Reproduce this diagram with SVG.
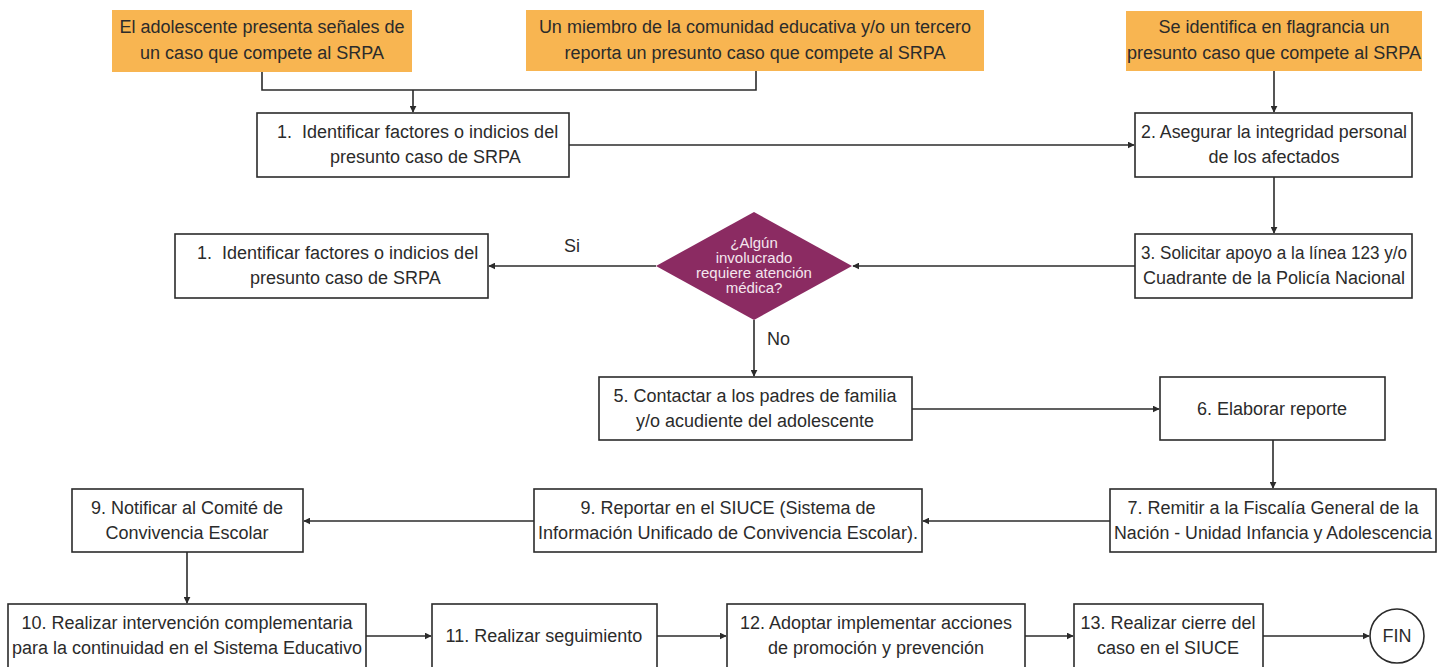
<svg xmlns="http://www.w3.org/2000/svg" width="1450" height="667" viewBox="0 0 1450 667">
<style>
.o{fill:#F8B551;stroke:none}
.b{fill:#fff;stroke:#2b2b2b;stroke-width:1.6}
.t{font-family:"Liberation Sans",Arial,sans-serif;font-size:18px;fill:#2b2b2b}
.c{font-family:"Liberation Sans",Arial,sans-serif;font-size:18px;fill:#2b2b2b}
.m{text-anchor:middle}
.d{font-family:"Liberation Sans",Arial,sans-serif;font-size:15px;fill:#f4e6ee;text-anchor:middle}
.l{fill:none;stroke:#2b2b2b;stroke-width:1.6}
</style>
<defs>
<marker id="a" viewBox="0 0 10 10" refX="9" refY="5" markerWidth="7" markerHeight="7" markerUnits="userSpaceOnUse" orient="auto">
<path d="M0,0 L10,5 L0,10 z" fill="#2b2b2b"/>
</marker>
</defs>
<rect width="1450" height="667" fill="#fff"/>
<g id="connectors">
<polyline class="l" points="262,72 262,90 756,90 756,71"/>
<line class="l" x1="413" y1="90" x2="413" y2="112" marker-end="url(#a)"/>
<line class="l" x1="569" y1="145" x2="1134" y2="145" marker-end="url(#a)"/>
<line class="l" x1="1274" y1="71" x2="1274" y2="112" marker-end="url(#a)"/>
<line class="l" x1="1274" y1="177" x2="1274" y2="233" marker-end="url(#a)"/>
<line class="l" x1="1135" y1="266" x2="853" y2="266" marker-end="url(#a)"/>
<line class="l" x1="656" y1="266" x2="489" y2="266" marker-end="url(#a)"/>
<line class="l" x1="754" y1="320" x2="754" y2="376" marker-end="url(#a)"/>
<line class="l" x1="912" y1="409" x2="1159" y2="409" marker-end="url(#a)"/>
<line class="l" x1="1273" y1="440" x2="1273" y2="488" marker-end="url(#a)"/>
<line class="l" x1="1110" y1="521" x2="923" y2="521" marker-end="url(#a)"/>
<line class="l" x1="534" y1="521" x2="304" y2="521" marker-end="url(#a)"/>
<line class="l" x1="187" y1="552" x2="187" y2="603" marker-end="url(#a)"/>
<line class="l" x1="366" y1="636" x2="431" y2="636" marker-end="url(#a)"/>
<line class="l" x1="657" y1="636" x2="726" y2="636" marker-end="url(#a)"/>
<line class="l" x1="1025" y1="636" x2="1073" y2="636" marker-end="url(#a)"/>
<line class="l" x1="1263" y1="636" x2="1369" y2="636" marker-end="url(#a)"/>
<text class="t" x="564" y="252">Si</text>
<text class="t" x="767" y="345">No</text>
</g>
<g id="start1">
<rect class="o" x="112" y="10" width="300" height="62"/>
<text class="t m" x="262" y="33">El adolescente presenta señales de</text>
<text class="t m" x="262" y="59">un caso que compete al SRPA</text>
</g>
<g id="start2">
<rect class="o" x="526" y="10" width="458" height="61"/>
<text class="t m" x="755" y="33">Un miembro de la comunidad educativa y/o un tercero</text>
<text class="t m" x="755" y="59">reporta un presunto caso que compete al SRPA</text>
</g>
<g id="start3">
<rect class="o" x="1126" y="11" width="296" height="60"/>
<text class="t m" x="1274" y="33">Se identifica en flagrancia un</text>
<text class="t m" x="1274" y="59">presunto caso que compete al SRPA</text>
</g>
<g id="step1">
<rect class="b" x="257" y="113" width="312" height="64"/>
<text class="t" x="277" y="138" xml:space="preserve">1.  Identificar factores o indicios del</text>
<text class="t" x="330" y="163">presunto caso de SRPA</text>
</g>
<g id="step2">
<rect class="b" x="1135" y="113" width="277" height="64"/>
<text class="t m" x="1274" y="138" textLength="266" lengthAdjust="spacingAndGlyphs">2. Asegurar la integridad personal</text>
<text class="t m" x="1274" y="163">de los afectados</text>
</g>
<g id="step3">
<rect class="b" x="1135" y="234" width="277" height="64"/>
<text class="t m" x="1274" y="259" textLength="266" lengthAdjust="spacingAndGlyphs">3. Solicitar apoyo a la línea 123 y/o</text>
<text class="t m" x="1274" y="284">Cuadrante de la Policía Nacional</text>
</g>
<g id="decision">
<polygon points="754,212 852,266 754,320 656,266" fill="#8B2B62"/>
<text class="d" x="754" y="248">¿Algún</text>
<text class="d" x="754" y="263">involucrado</text>
<text class="d" x="754" y="278">requiere atención</text>
<text class="d" x="754" y="293">médica?</text>
</g>
<g id="step1b">
<rect class="b" x="175" y="234" width="313" height="64"/>
<text class="c" x="197" y="259" xml:space="preserve">1.  Identificar factores o indicios del</text>
<text class="c" x="250" y="284">presunto caso de SRPA</text>
</g>
<g id="step5">
<rect class="b" x="599" y="377" width="313" height="63"/>
<text class="c m" x="755" y="402">5. Contactar a los padres de familia</text>
<text class="c m" x="755" y="427">y/o acudiente del adolescente</text>
</g>
<g id="step6">
<rect class="b" x="1160" y="377" width="225" height="63"/>
<text class="c m" x="1272" y="415">6. Elaborar reporte</text>
</g>
<g id="step7">
<rect class="b" x="1110" y="489" width="326" height="63"/>
<text class="c m" x="1273" y="514">7. Remitir a la Fiscalía General de la</text>
<text class="c m" x="1273" y="539" textLength="318" lengthAdjust="spacingAndGlyphs">Nación - Unidad Infancia y Adolescencia</text>
</g>
<g id="step9a">
<rect class="b" x="534" y="489" width="388" height="63"/>
<text class="c m" x="728" y="514">9. Reportar en el SIUCE (Sistema de</text>
<text class="c m" x="728" y="539" textLength="380" lengthAdjust="spacingAndGlyphs">Información Unificado de Convivencia Escolar).</text>
</g>
<g id="step9b">
<rect class="b" x="72" y="489" width="231" height="63"/>
<text class="c m" x="187" y="514">9. Notificar al Comité de</text>
<text class="c m" x="187" y="539">Convivencia Escolar</text>
</g>
<g id="step10">
<rect class="b" x="8" y="604" width="358" height="70"/>
<text class="c m" x="187" y="629">10. Realizar intervención complementaria</text>
<text class="c m" x="187" y="654">para la continuidad en el Sistema Educativo</text>
</g>
<g id="step11">
<rect class="b" x="432" y="604" width="225" height="70"/>
<text class="c m" x="544" y="642">11. Realizar seguimiento</text>
</g>
<g id="step12">
<rect class="b" x="727" y="604" width="298" height="70"/>
<text class="c m" x="876" y="629">12. Adoptar implementar acciones</text>
<text class="c m" x="876" y="654">de promoción y prevención</text>
</g>
<g id="step13">
<rect class="b" x="1074" y="604" width="189" height="70"/>
<text class="c m" x="1168" y="629">13. Realizar cierre del</text>
<text class="c m" x="1168" y="654">caso en el SIUCE</text>
</g>
<g id="fin">
<circle class="b" cx="1397" cy="636" r="27"/>
<text class="c m" x="1397" y="642">FIN</text>
</g>
</svg>
